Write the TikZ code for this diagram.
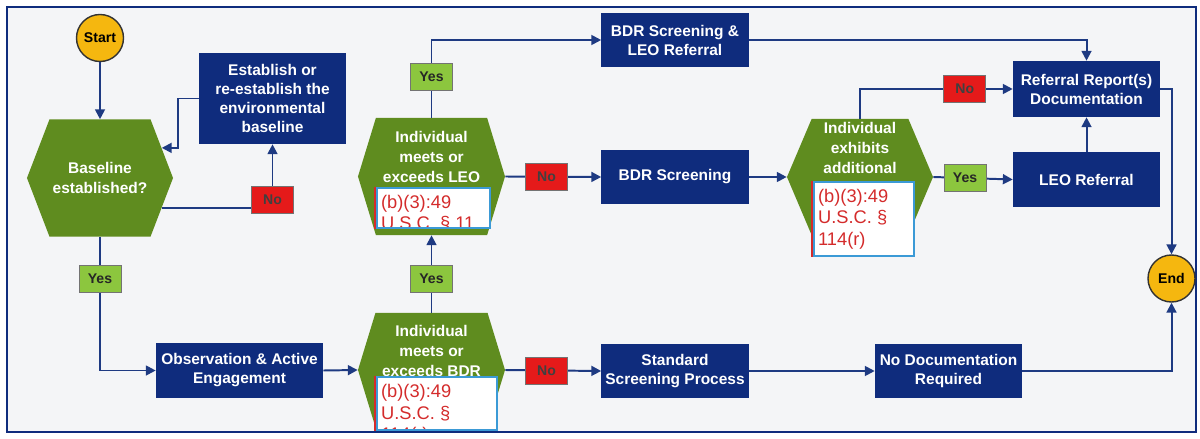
\documentclass[tikz,border=0pt]{standalone}
\usepackage{fontspec}
\setmainfont{Liberation Sans}
\usetikzlibrary{arrows,arrows.meta,positioning,shapes.symbols}
\definecolor{boxColor}{HTML}{0F2C7D}
\definecolor{hexColor}{HTML}{5F8C1F}
\definecolor{yesColor}{HTML}{8CC63E}
\definecolor{noColor}{HTML}{E51A1A}
\definecolor{goldColor}{HTML}{F5B70F}
\definecolor{bgColor}{HTML}{F4F5F7}
\definecolor{lineColor}{HTML}{1E3A82}
\definecolor{legBlue}{HTML}{3B9AD6}
\definecolor{legRed}{HTML}{D42B2B}
\tikzset{
	box/.style={fill=boxColor, text=white, font=\bfseries\fontsize{11}{13.5}\selectfont,
		align=center, inner sep=1pt, minimum width=3.675cm, minimum height=1.35cm},
	hexa/.style={signal, signal to=east and west, fill=hexColor, text=white,
		font=\bfseries\fontsize{11}{14}\selectfont, align=center, inner sep=0pt},
	hextext/.style={text=white, font=\bfseries\fontsize{11}{14}\selectfont, align=center},
	term/.style={circle, draw=black!80, line width=1pt, fill=goldColor,
		font=\bfseries\fontsize{10}{12}\selectfont, minimum size=1.175cm, inner sep=0pt},
	yesbox/.style={fill=yesColor, draw=black!55, line width=0.6pt, text=black!85,
		font=\bfseries\fontsize{10}{12}\selectfont, minimum width=1.05cm, minimum height=0.675cm, inner sep=0pt},
	nobox/.style={yesbox, fill=noColor, text=black!75},
	conn/.style={draw=lineColor, line width=1.4pt},
	legtext/.style={draw=none, fill=none, anchor=north west, align=left, text=legRed,
		font=\fontsize{13}{15}\selectfont, minimum size=0pt, inner xsep=2.5pt, inner ysep=5pt},
	legal/.style={draw=legBlue, fill=white, line width=0.9pt, inner sep=0pt,
		path picture={\node[legtext] at (path picture bounding box.north west) {#1};}}
}

\begin{document}
\begin{tikzpicture}[->,>={Triangle[length=7pt,width=7pt]},x=0.025cm,y=-0.025cm]
	\useasboundingbox (0,0) rectangle (1200,439);
	\draw[-, draw=boxColor, fill=bgColor, line width=1.2pt] (7,7) rectangle (1196,432);
	
	\node[term] (start) at (100,38) {Start};
	\node[term] (end) at (1171.5,278.5) {End};
	
	\node[hexa, signal pointer angle=138, minimum width=3.65cm, minimum height=2.925cm] (base) at (100,178) {Baseline\\established?};
	\node[hexa, signal pointer angle=146, minimum width=3.675cm, minimum height=2.925cm] (leo) at (431.5,176.5) {};
	\node[hexa, signal pointer angle=146, minimum width=3.675cm, minimum height=2.85cm] (bdr) at (431.5,370) {};
	\node[hexa, signal pointer angle=134, minimum width=3.65cm, minimum height=2.9cm] (exh) at (860,177) {};
	\node[hextext] (leotxt) at (431.5,157) {Individual\\meets or\\exceeds LEO};
	\node[hextext] (bdrtxt) at (431.5,351) {Individual\\meets or\\exceeds BDR};
	\node[hextext] (exhtxt) at (860,148) {Individual\\exhibits\\additional};
	
	\node[box, minimum height=2.275cm] (est) at (272.5,98.5) {Establish or\\re-establish the\\environmental\\baseline};
	\node[box, minimum width=4.175cm] (obs) at (239.5,370.5) {Observation \& Active\\Engagement};
	\node[box] (bdrleo) at (675,40) {BDR Screening \&\\LEO Referral};
	\node[box] (bdrs) at (675,177) {BDR Screening};
	\node[box] (std) at (675,371) {Standard\\Screening Process};
	\node[box, minimum height=1.4cm] (ref) at (1086.5,89) {Referral Report(s)\\Documentation};
	\node[box] (leoref) at (1086.5,179.5) {LEO Referral};
	\node[box] (nodoc) at (948.5,371) {No Documentation\\Required};
	
	\node[legal={(b)(3):49\\U.S.C. § 11}, minimum width=2.825cm, minimum height=1cm] (leg1) at (433.5,208) {};
	\node[legal={(b)(3):49\\U.S.C. §\\114(r)}, minimum width=3cm, minimum height=1.325cm] (leg2) at (437,403.5) {};
	\node[legal={(b)(3):49\\U.S.C. §\\114(r)}, minimum width=2.5cm, minimum height=1.85cm] (leg3) at (864,219) {};
	\foreach \n in {leg1,leg2,leg3}
		\draw[-, legRed, line width=1.2pt] ([xshift=-1.2pt]\n.north west) -- ([xshift=-1.2pt]\n.south west);
	
	\draw[conn] (start) -- (base);
	\draw[conn] (base.-26) -| node[nobox, pos=0.5625] (no1) {No} (est.south);
	\draw[conn] (est.west) -- ++(-21,0) |- (base.26);
	\draw[conn] (base.south) |- node[yesbox, pos=0.158] (yes1) {Yes} (obs.west);
	\draw[conn] (obs.east) -- (bdr.west);
	\draw[conn] (bdr.north) -- node[yesbox, pos=0.44] (yes2) {Yes} (leo.south);
	\draw[conn] (bdr.east) -- node[nobox, pos=0.43] (no2) {No} (std.west);
	\draw[conn] (leo.east) -- node[nobox, pos=0.43] (no3) {No} (bdrs.west);
	\draw[conn] (leo.north) |- node[yesbox, pos=0.263] (yes3) {Yes} (bdrleo.west);
	\draw[conn] (bdrleo.east) -| (ref.north);
	\draw[conn] (bdrs.east) -- (exh.west);
	\draw[conn] (exh.north) |- node[nobox, pos=0.843] (no4) {No} (ref.west);
	\draw[conn] (exh.east) -- node[yesbox, pos=0.4] (yes4) {Yes} (leoref.west);
	\draw[conn] (leoref.north) -- (ref.south);
	\draw[conn] (ref.east) -| (end.north);
	\draw[conn] (std.east) -- (nodoc.west);
	\draw[conn] (nodoc.east) -| (end.south);
\end{tikzpicture}
\end{document}
